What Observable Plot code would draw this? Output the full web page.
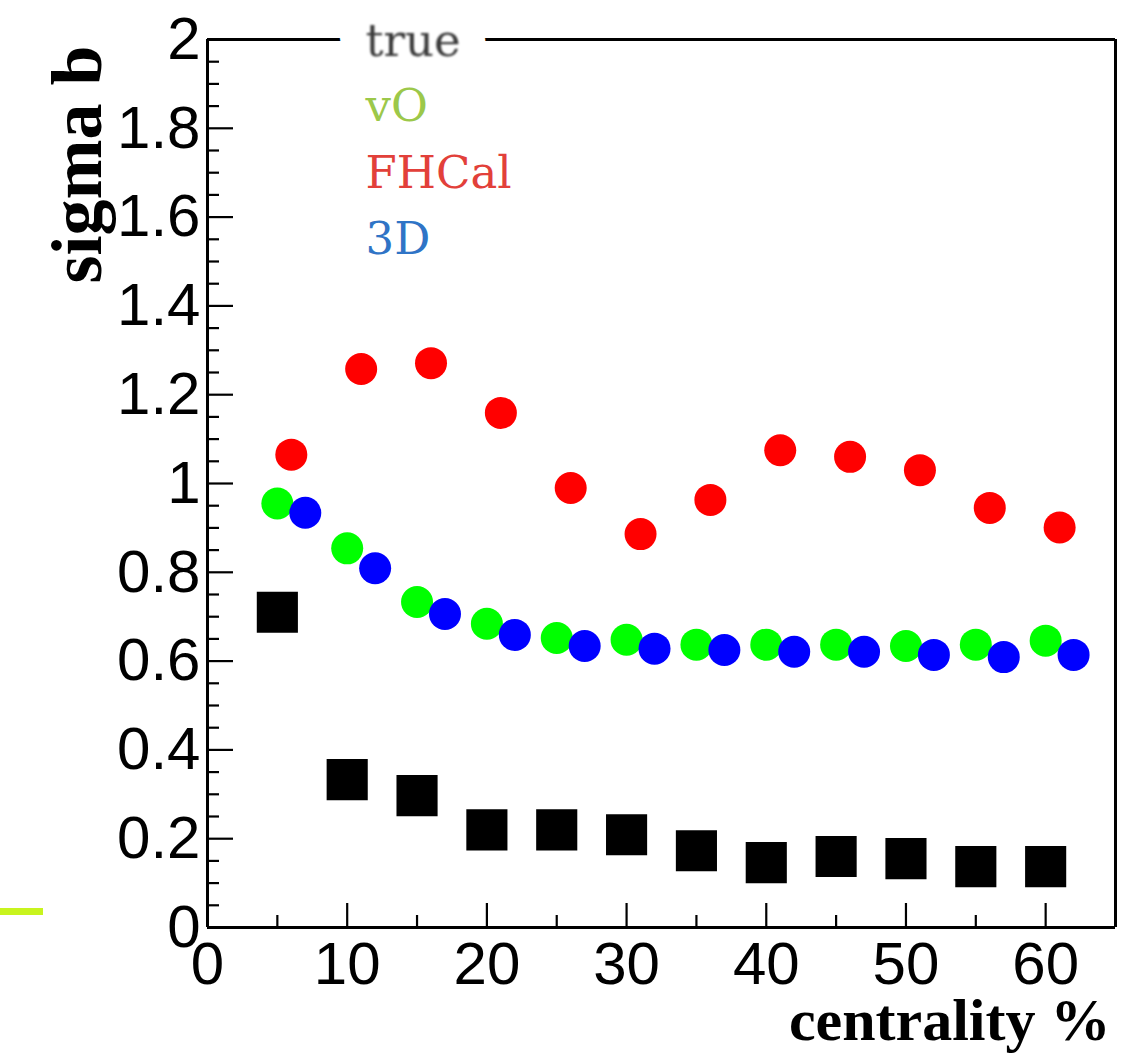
<!DOCTYPE html>
<html>
<head>
<meta charset="utf-8">
<script src="https://cdn.jsdelivr.net/npm/d3@7"></script>
<script src="https://cdn.jsdelivr.net/npm/@observablehq/plot@0.6"></script>
<style>
  html, body { margin: 0; padding: 0; background: #fff; }
  #wrap { position: relative; width: 1122px; height: 1053px; }
  #mark { position: absolute; left: 0; top: 908px; width: 43px; height: 7px; background: #c8f41e; }
</style>
</head>
<body>
<div id="wrap"><div id="mark"></div></div>
<script>
// ---- data ----
const centralityTrue = [5, 10, 15, 20, 25, 30, 35, 40, 45, 50, 55, 60];
const sigmaTrue = [0.710, 0.333, 0.297, 0.220, 0.220, 0.209, 0.173, 0.146, 0.160, 0.155, 0.137, 0.137];

const centralityV0 = [5, 10, 15, 20, 25, 30, 35, 40, 45, 50, 55, 60];
const sigmaV0 = [0.955, 0.854, 0.733, 0.684, 0.652, 0.648, 0.637, 0.637, 0.637, 0.634, 0.637, 0.646];

const centralityFHCal = [6, 11, 16, 21, 26, 31, 36, 41, 46, 51, 56, 61];
const sigmaFHCal = [1.065, 1.258, 1.271, 1.159, 0.990, 0.886, 0.963, 1.075, 1.060, 1.030, 0.945, 0.901];

const centrality3D = [7, 12, 17, 22, 27, 32, 37, 42, 47, 52, 57, 62];
const sigma3D = [0.934, 0.809, 0.706, 0.659, 0.634, 0.628, 0.625, 0.621, 0.621, 0.614, 0.609, 0.614];

const xMajorTicks = [0, 10, 20, 30, 40, 50, 60];
const xMinorTicks = [5, 15, 25, 35, 45, 55, 65];
const yMajorTicks = [0, 0.2, 0.4, 0.6, 0.8, 1, 1.2, 1.4, 1.6, 1.8, 2];
const yTickLabels = ["0", "0.2", "0.4", "0.6", "0.8", "1", "1.2", "1.4", "1.6", "1.8", "2"];
const yMinorTicks = d3.range(0, 41).map(i => +(i * 0.05).toFixed(2)).filter(v => !yMajorTicks.includes(v));

const legendLabels = ["true", "vO", "FHCal", "3D"];
const legendColors = ["#3a3a3a", "#9cc84a", "#e2403a", "#2f74c6"];

const xLabel = "centrality %";
const yLabel = "sigma b";

// ---- layout ----
const W = 1122, H = 1053;
const mL = 207, mR = 7, mT = 39, mB = 126;
const innerW = W - mL - mR, innerH = H - mT - mB;

const toRows = (xs, ys) => xs.map((x, i) => ({x, y: ys[i]}));

const tickFont = "'Liberation Sans', Arial, Helvetica, sans-serif";
const serif = "'Liberation Serif', 'Times New Roman', serif";
const legendFont = "'DejaVu Serif', serif";

const legendDy = [16, 81, 148, 214];

const chart = Plot.plot({
  width: W,
  height: H,
  marginLeft: mL, marginRight: mR, marginTop: mT, marginBottom: mB,
  style: {background: "#fff", fontFamily: tickFont, color: "#000", overflow: "visible"},
  x: {domain: [0, 65]},
  y: {domain: [0, 2]},
  marks: [
    // frame
    Plot.ruleX([0, 65], {stroke: "#000", strokeWidth: 3}),
    Plot.ruleY([0, 2], {stroke: "#000", strokeWidth: 3}),
    // inward ticks
    Plot.tickY(yMajorTicks, {y: d => d, insetRight: innerW - 26, stroke: "#000", strokeWidth: 2.2}),
    Plot.tickY(yMinorTicks, {y: d => d, insetRight: innerW - 12, stroke: "#000", strokeWidth: 2.2}),
    Plot.tickX(xMajorTicks, {x: d => d, insetTop: innerH - 24, stroke: "#000", strokeWidth: 2.2}),
    Plot.tickX(xMinorTicks, {x: d => d, insetTop: innerH - 12, stroke: "#000", strokeWidth: 2.2}),
    // axes labels
    Plot.axisY({ticks: yMajorTicks, tickFormat: (d, i) => yTickLabels[i], tickSize: 0, tickPadding: 7,
      fontSize: 60, fill: "#000", label: null}),
    Plot.axisX({ticks: xMajorTicks, tickSize: 0, tickPadding: 14, fontSize: 60, fill: "#000", label: null}),
    // axis titles
    Plot.text([yLabel], {text: d => d, frameAnchor: "top-left", rotate: -90, textAnchor: "end",
      lineAnchor: "bottom", dx: -107, dy: 6, fontSize: 72, fontWeight: "bold", fontFamily: serif, fill: "#000"}),
    Plot.text([xLabel], {text: d => d, frameAnchor: "bottom-right", textAnchor: "end",
      lineAnchor: "bottom", dx: -5, dy: 112, fontSize: 60, fontWeight: "bold", fontFamily: serif, fill: "#000"}),
    // data
    Plot.dot(toRows(centralityTrue, sigmaTrue), {x: "x", y: "y", symbol: "square", r: 23.2, fill: "#000", stroke: "none"}),
    Plot.dot(toRows(centralityV0, sigmaV0), {x: "x", y: "y", r: 16, fill: "#00ff00", stroke: "none"}),
    Plot.dot(toRows(centralityFHCal, sigmaFHCal), {x: "x", y: "y", r: 16, fill: "#ff0000", stroke: "none"}),
    Plot.dot(toRows(centrality3D, sigma3D), {x: "x", y: "y", r: 16, fill: "#0000ff", stroke: "none"}),
    // legend: halo that opens the top frame line behind "true"
    Plot.text([legendLabels[0]], {text: d => d, frameAnchor: "top-left", textAnchor: "start", lineAnchor: "bottom",
      dx: 158, dy: legendDy[0], fontSize: 45, fontFamily: legendFont, fill: "#fff", stroke: "#fff", strokeWidth: 54}),
    ...legendLabels.map((lab, i) => Plot.text([lab], {text: d => d, frameAnchor: "top-left", textAnchor: "start",
      lineAnchor: "bottom", dx: 158, dy: legendDy[i], fontSize: 45, fontFamily: legendFont, fill: legendColors[i]}))
  ]
});

document.getElementById("wrap").appendChild(chart);
// slight blur on "true" as in the reference
chart.querySelectorAll("text").forEach(t => {
  if (t.textContent === "true" && t.getAttribute("fill") !== "#fff") {
    const g = t.closest("g");
    if (g && g.getAttribute("fill") !== "#fff") t.style.filter = "blur(0.8px)";
  }
});
</script>
</body>
</html>
